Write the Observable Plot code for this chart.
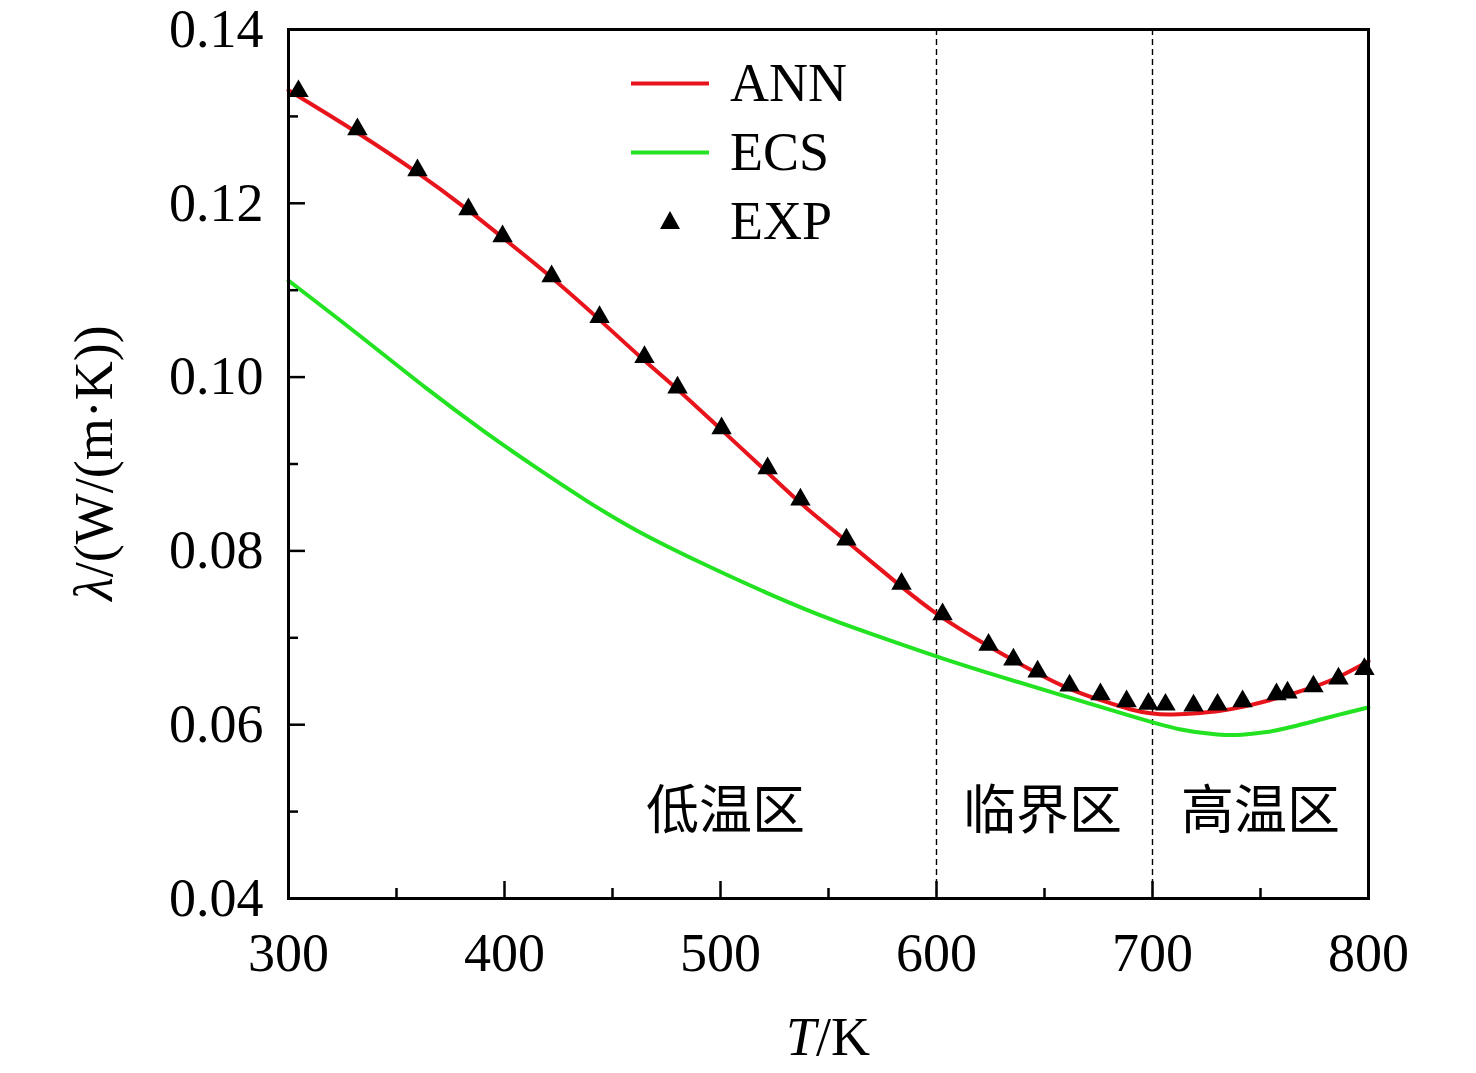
<!DOCTYPE html>
<html>
<head>
<meta charset="utf-8">
<script src="https://cdn.jsdelivr.net/npm/d3@7"></script>
<script src="https://cdn.jsdelivr.net/npm/@observablehq/plot@0.6"></script>
<style>
  html, body { margin: 0; padding: 0; background: white; }
  #wrap { position: relative; width: 1476px; height: 1073px; }
  .legend { position: absolute; left: 631px; top: 49px; font-family: "Liberation Serif", "Times New Roman", serif; font-size: 54px; color: black; }
  .legend .row { display: flex; align-items: center; height: 69px; line-height: 69px; }
  .legend svg { width: 78px; height: 69px; margin-right: 21px; display: block; }
</style>
</head>
<body>
<div id="wrap"></div>
<script>
// ---- data ----
const annT = [300, 331.8, 359.6, 383.5, 398.9, 422, 443.7, 464.5, 479.9, 500.5, 521.6, 537, 558.6, 584, 600.3, 622, 645, 661, 676, 691.4, 699, 706.8, 719, 730, 741.5, 757.7, 774.7, 787, 800];
const annV = [0.1330, 0.1282, 0.1236, 0.1192, 0.1161, 0.1115, 0.1067, 0.1019, 0.0987, 0.0939, 0.0891, 0.0854, 0.0811, 0.0758, 0.0726, 0.0693, 0.0661, 0.0641, 0.0628, 0.0616, 0.0613, 0.0611, 0.0613, 0.0615, 0.0620, 0.0630, 0.0643, 0.0655, 0.0673];

const ecsT = [300, 329.5, 365, 391.2, 414.4, 437.5, 460.6, 491, 521.6, 552.5, 583.3, 600.3, 629.6, 660.5, 691.4, 713, 731.5, 741, 753, 764, 776.2, 787, 800];
const ecsV = [0.1111, 0.1055, 0.0984, 0.0936, 0.0896, 0.0858, 0.0823, 0.0786, 0.0751, 0.0719, 0.0693, 0.0678, 0.0655, 0.0632, 0.0609, 0.0593, 0.0588, 0.0588, 0.0591, 0.0597, 0.0605, 0.0612, 0.0620];

const expT = [304.6, 331.9, 359.7, 383.3, 399.1, 421.8, 444.0, 464.8, 480.1, 500.5, 521.8, 537.0, 558.3, 583.8, 602.8, 624.1, 635.6, 646.8, 661.6, 675.9, 688.0, 698.1, 706.0, 719.0, 730.1, 741.7, 757.4, 762.5, 774.5, 786.1, 798.1];
const expV = [0.1329, 0.1285, 0.1238, 0.1193, 0.1162, 0.1116, 0.1069, 0.1023, 0.0988, 0.0941, 0.0895, 0.0859, 0.0813, 0.0762, 0.0727, 0.0692, 0.0675, 0.0661, 0.0645, 0.0635, 0.0627, 0.0624, 0.0623, 0.0622, 0.0623, 0.0627, 0.0635, 0.0637, 0.0644, 0.0653, 0.0664];

const dividers = [600, 700];
const zoneLabels = ["低温区", "临界区", "高温区"];
const zoneT = [502.3, 649.1, 750];
const zoneV = [0.0500, 0.0500, 0.0500];

const xMajor = [300, 400, 500, 600, 700, 800];
const xMinor = [350, 450, 550, 650, 750];
const yMajor = [0.04, 0.06, 0.08, 0.10, 0.12, 0.14];
const yMinor = [0.05, 0.07, 0.09, 0.11, 0.13];

const seriesNames = ["ANN", "ECS", "EXP"];
const red = "#e8141c";
const green = "#22e222";

// ---- tables ----
const ann = annT.map((T, i) => ({T, v: annV[i]}));
const ecs = ecsT.map((T, i) => ({T, v: ecsV[i]}));
const exp = expT.map((T, i) => ({T, v: expV[i]}));
const zones = zoneLabels.map((label, i) => ({label, T: zoneT[i], v: zoneV[i]}));

const serif = "'Liberation Serif', 'Times New Roman', serif";
const cjk = "'Liberation Serif', 'Noto Sans CJK SC', serif";

const chart = Plot.plot({
  width: 1476,
  height: 1073,
  marginLeft: 288,
  marginRight: 108,
  marginTop: 29,
  marginBottom: 175,
  x: {domain: [300, 800]},
  y: {domain: [0.04, 0.14]},
  style: {fontFamily: serif, fontSize: "54px", background: "white", color: "black", overflow: "visible"},
  marks: [
    Plot.ruleX(dividers, {stroke: "black", strokeWidth: 1.4, strokeDasharray: "6,4"}),
    Plot.line(ecs, {x: "T", y: "v", stroke: green, strokeWidth: 4, curve: "basis"}),
    Plot.line(ann, {x: "T", y: "v", stroke: red, strokeWidth: 4, curve: "basis"}),
    Plot.dot(exp, {x: "T", y: "v", symbol: "triangle", fill: "black", r: 7.6}),
    Plot.text(zones, {x: "T", y: "v", text: "label", fontSize: 53, fontFamily: cjk, fill: "black"}),
    Plot.axisX(xMajor, {tickSize: -17, strokeWidth: 2.5, tickFormat: () => "", label: null}),
    Plot.axisX(xMinor, {tickSize: -10, strokeWidth: 2.5, tickFormat: () => "", label: null}),
    Plot.axisX(xMajor, {tickSize: 0, tickPadding: 34, tickFormat: d => String(d), label: null, fontSize: 54}),
    Plot.axisY(yMajor, {tickSize: -17, strokeWidth: 2.5, tickFormat: () => "", label: null}),
    Plot.axisY(yMinor, {tickSize: -10, strokeWidth: 2.5, tickFormat: () => "", label: null}),
    Plot.axisY(yMajor, {tickSize: 0, tickPadding: 25, tickFormat: d => d.toFixed(2), label: null, fontSize: 54}),
    Plot.frame({stroke: "black", strokeWidth: 3})
  ]
});

// axis titles with mixed italic
const svg = d3.select(chart);
const xt = svg.append("text")
  .attr("x", 828).attr("y", 1055)
  .attr("text-anchor", "middle")
  .attr("font-family", serif).attr("font-size", 54).attr("fill", "black");
xt.append("tspan").attr("font-style", "italic").text("T");
xt.append("tspan").text("/K");

const yt = svg.append("text")
  .attr("transform", "translate(112,463) rotate(-90)")
  .attr("text-anchor", "middle")
  .attr("font-family", serif).attr("font-size", 54).attr("fill", "black");
yt.append("tspan").attr("font-style", "italic").text("λ");
yt.append("tspan").text("/(W/(m·K))");

const wrap = document.getElementById("wrap");
wrap.appendChild(chart);

// legend
const legend = document.createElement("div");
legend.className = "legend";
const swatches = [
  `<svg viewBox="0 0 78 69"><line x1="0" x2="78" y1="34.5" y2="34.5" stroke="${red}" stroke-width="4"/></svg>`,
  `<svg viewBox="0 0 78 69"><line x1="0" x2="78" y1="34.5" y2="34.5" stroke="${green}" stroke-width="4"/></svg>`,
  `<svg viewBox="0 0 78 69"><path d="M39,24 L49,42 L29,42 Z" fill="black"/></svg>`
];
seriesNames.forEach((name, i) => {
  const row = document.createElement("div");
  row.className = "row";
  row.innerHTML = swatches[i] + `<span>${name}</span>`;
  legend.appendChild(row);
});
wrap.appendChild(legend);
</script>
</body>
</html>
